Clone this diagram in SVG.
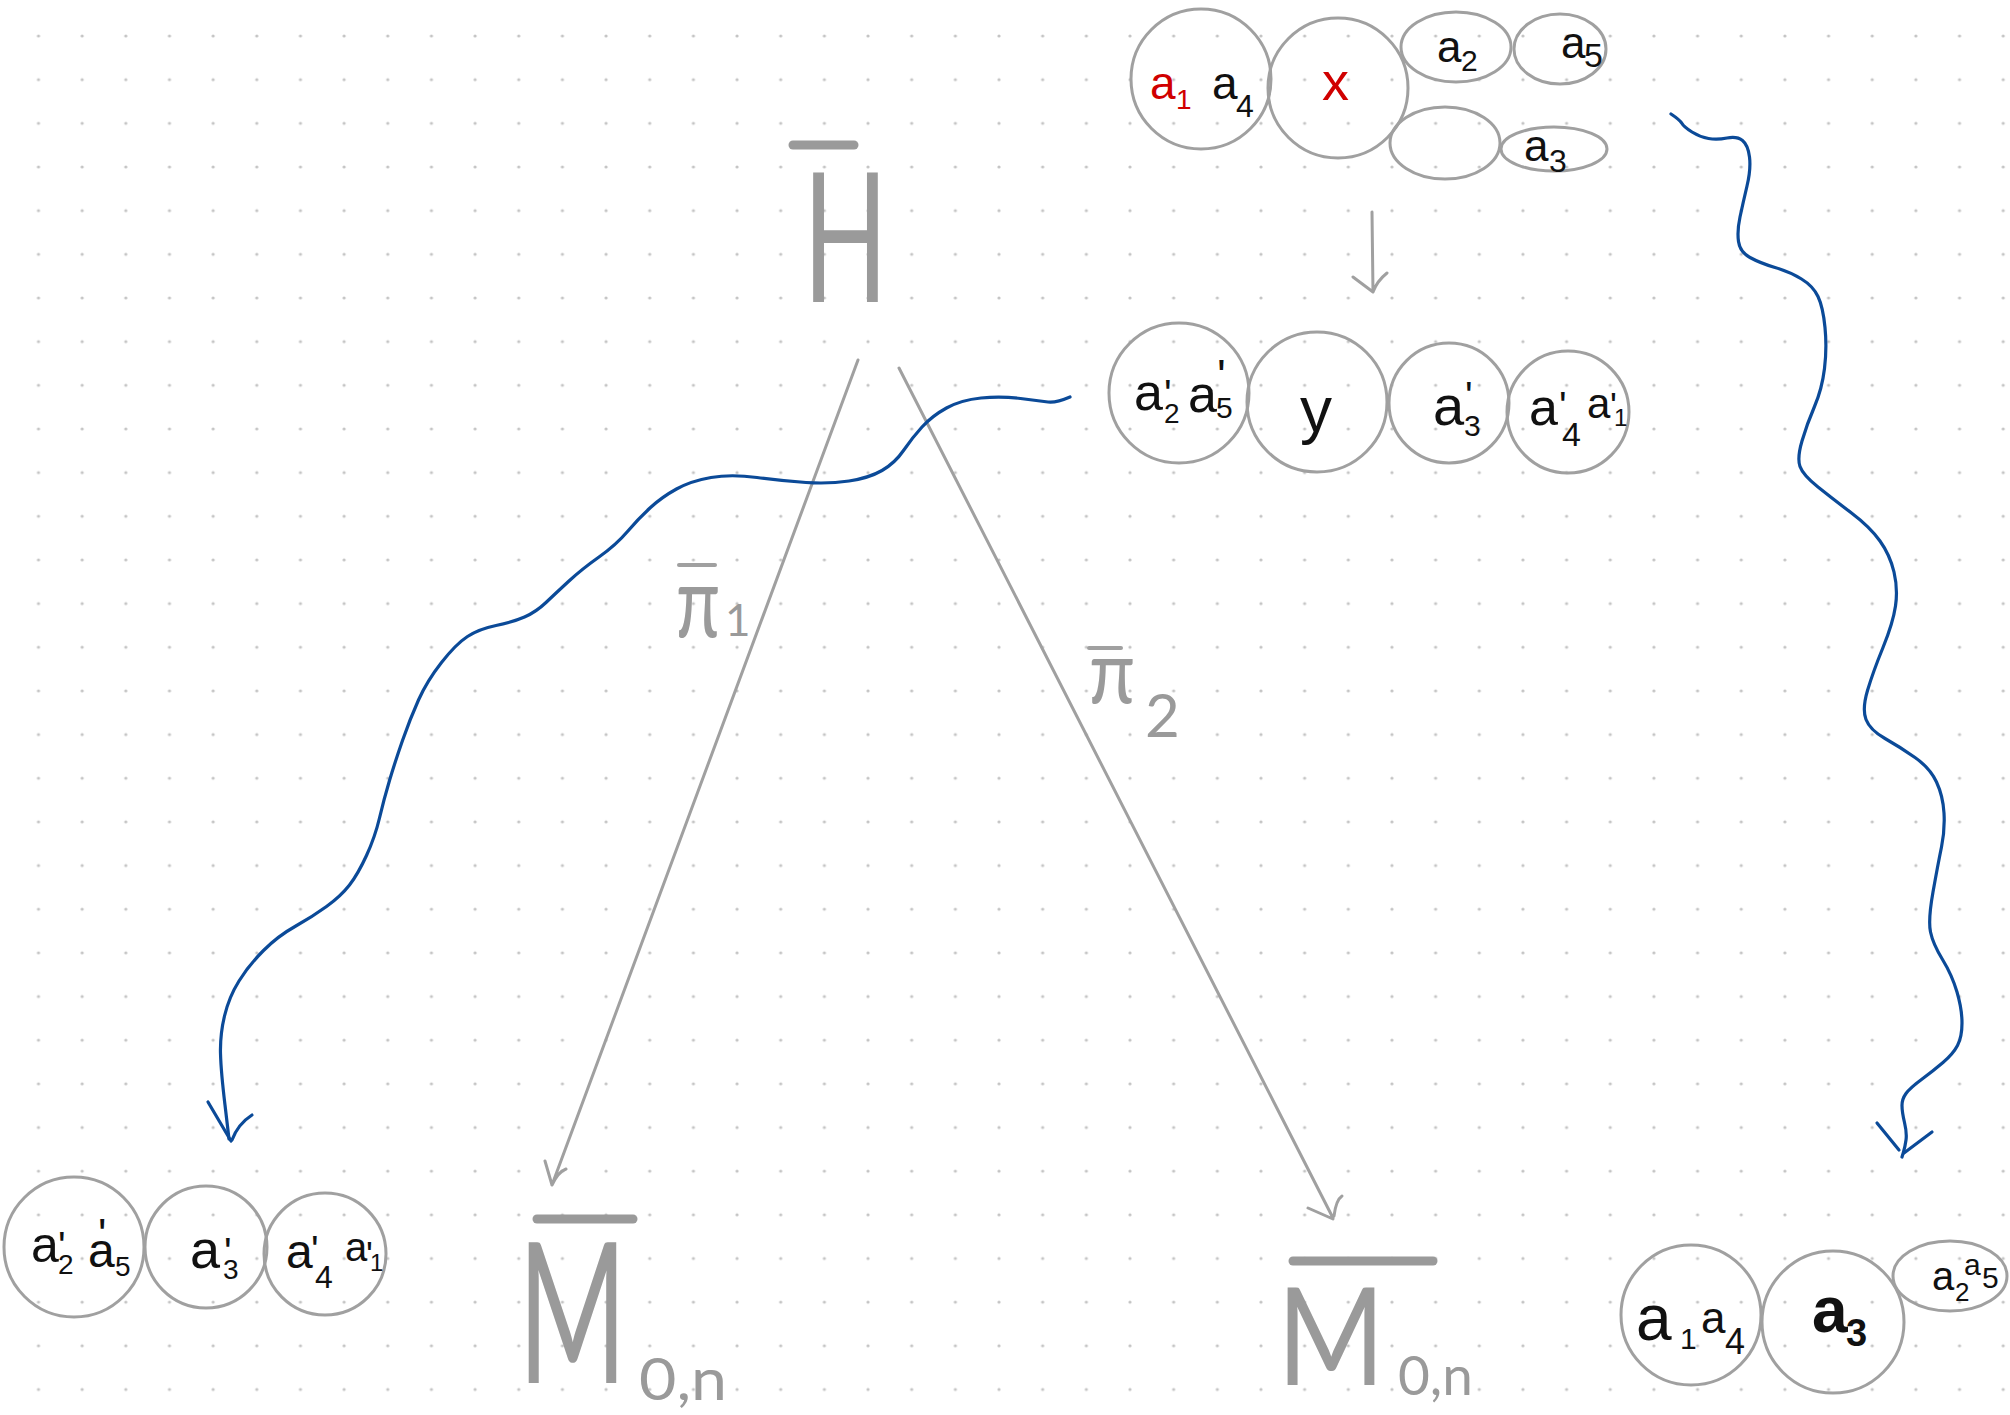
<svg xmlns="http://www.w3.org/2000/svg" width="2010" height="1415" viewBox="0 0 2010 1415">
<defs>
<pattern id="dots" patternUnits="userSpaceOnUse" x="16.67" y="14.17" width="43.66" height="43.66">
<circle cx="21.83" cy="21.83" r="1.6" fill="#c4c4c4"/>
</pattern>
</defs>
<style>
.ring{fill:none;stroke:#a0a0a0;stroke-width:3}
.t{font-family:"Liberation Sans",Arial,sans-serif;fill:#111}
.r{fill:#d00000}
.big{font-family:Lato,"Liberation Sans",Arial,sans-serif;font-weight:400;fill:#9a9a9a}
.bar{stroke:#9a9a9a;stroke-width:9;stroke-linecap:round}
.g{fill:none;stroke:#a0a0a0;stroke-width:3;stroke-linecap:round;stroke-linejoin:round}
.b{fill:none;stroke:#0b4a98;stroke-width:3.2;stroke-linecap:round;stroke-linejoin:round}
</style>
<rect width="2010" height="1415" fill="#ffffff"/>
<rect width="2010" height="1415" fill="url(#dots)"/>

<g id="connectors">
<path class="g" d="M858,360 L552,1185 M545,1161 L552,1185 Q558,1172 566,1169"/>
<path class="g" d="M899,368 L1333,1218 M1308,1208 L1333,1219 M1334,1216 Q1336,1200 1342,1196"/>
<path class="g" d="M1372,212 L1373,292 M1353,277 L1373,292 M1387,273 Q1377,281 1373,292"/>
<path class="b" d="M1070,397 Q1056,403 1048,402 Q1040,401 1020.5,398.5 Q1001,396 981,398 Q961,400 946.5,408 Q932,416 922,427 Q912,438 903.5,450.5 Q895,463 882,470.5 Q869,478 849,481 Q829,484 806,482.5 Q783,481 757,477.5 Q731,474 711,477.5 Q691,481 676.5,489 Q662,497 650.5,507.5 Q639,518 627.5,531.5 Q616,545 599,557 Q582,569 569,581 Q556,593 546,602.5 Q536,612 524.5,617 Q513,622 496,625.5 Q479,629 467.5,636.5 Q456,644 441.5,662.5 Q427,681 418.5,700 Q410,719 402.5,740.5 Q395,762 389.5,780.5 Q384,799 379.5,818 Q375,837 366.5,855.5 Q358,874 349.5,885 Q341,896 326.5,906.5 Q312,917 295,926.5 Q278,936 263.5,950.5 Q249,965 239,981 Q229,997 224.5,1016 Q220,1035 220.5,1053.5 Q221,1072 225,1105 L229,1139"/>
<path class="b" d="M208,1102 L231,1141 M252,1115 Q238,1124 232,1140"/>
<path class="b" d="M1671,114 Q1680,120 1682,123.5 Q1684,127 1692,132 Q1700,137 1708.5,138.5 Q1717,140 1727,138 Q1737,136 1742.5,140.5 Q1748,145 1749.5,157 Q1751,169 1747,186 Q1743,203 1740,217 Q1737,231 1738.5,241.5 Q1740,252 1750,257.5 Q1760,263 1775,267.5 Q1790,272 1801.5,279 Q1813,286 1818,296.5 Q1823,307 1825,327.5 Q1827,348 1824.5,368.5 Q1822,389 1814.5,406.5 Q1807,424 1802,441 Q1797,458 1800,466.5 Q1803,475 1818,487 Q1833,499 1851.5,513 Q1870,527 1880,541 Q1890,555 1894,572 Q1898,589 1895.5,606 Q1893,623 1883,647.5 Q1873,672 1867.5,690.5 Q1862,709 1866,719.5 Q1870,730 1885,738.5 Q1900,747 1915,757.5 Q1930,768 1936.5,782 Q1943,796 1944,813 Q1945,830 1941.5,847 Q1938,864 1933,892 Q1928,920 1930.5,932 Q1933,944 1942.5,959.5 Q1952,975 1957,992 Q1962,1009 1962,1023 Q1962,1037 1957.5,1045.5 Q1953,1054 1943,1062.5 Q1933,1071 1921.5,1079.5 Q1910,1088 1906,1093.5 Q1902,1099 1902,1105.5 Q1902,1112 1904.5,1122.5 Q1907,1133 1906,1140 Q1905,1147 1903.5,1152 L1902,1157"/>
<path class="b" d="M1877,1123 L1899,1150 M1932,1132 L1904,1153"/>
</g>

<g id="label-pi1">
<line x1="679" y1="565" x2="715" y2="565" stroke="#a0a0a0" stroke-width="4" stroke-linecap="round"/>
<text class="big" x="676" y="637" font-size="100" fill="#a0a0a0" textLength="44" lengthAdjust="spacingAndGlyphs">π</text>
<text class="big" x="725" y="636" font-size="44">1</text>
</g>
<g id="label-pi2">
<line x1="1089" y1="648" x2="1121" y2="648" stroke="#a0a0a0" stroke-width="4" stroke-linecap="round"/>
<text class="big" x="1089" y="703" font-size="90" textLength="46" lengthAdjust="spacingAndGlyphs">π</text>
<text class="big" x="1145" y="737" font-size="60">2</text>
</g>

<g id="node-H">
<line class="bar" x1="793" y1="145" x2="854" y2="145"/>
<text class="big" x="803" y="302" font-size="180" textLength="85" lengthAdjust="spacingAndGlyphs">H</text>
</g>

<g id="node-M-left">
<line class="bar" x1="537" y1="1219" x2="633" y2="1219"/>
<text class="big" x="518" y="1383" font-size="196" textLength="109" lengthAdjust="spacingAndGlyphs">M</text>
<text class="big" x="639" y="1400" font-size="58" textLength="88" lengthAdjust="spacingAndGlyphs">0,n</text>
</g>

<g id="node-M-right">
<line class="bar" x1="1293" y1="1261" x2="1433" y2="1261"/>
<text class="big" x="1277" y="1385" font-size="135" textLength="108" lengthAdjust="spacingAndGlyphs">M</text>
<text class="big" x="1398" y="1395" font-size="54" textLength="75" lengthAdjust="spacingAndGlyphs">0,n</text>
</g>

<g id="node-top">
<circle class="ring" cx="1201" cy="79" r="70"/>
<circle class="ring" cx="1338" cy="88" r="70"/>
<ellipse class="ring" cx="1456" cy="47" rx="55" ry="35"/>
<ellipse class="ring" cx="1560" cy="49" rx="46" ry="35"/>
<ellipse class="ring" cx="1445" cy="143" rx="55" ry="36"/>
<ellipse class="ring" cx="1554" cy="149" rx="53" ry="22"/>
<text class="t r" font-size="46"><tspan x="1150" y="99">a</tspan><tspan x="1176" y="109" font-size="28">1</tspan></text>
<text class="t" font-size="46"><tspan x="1212" y="99">a</tspan><tspan x="1236" y="117" font-size="32">4</tspan></text>
<text class="t r" x="1322" y="100" font-size="54">x</text>
<text class="t" font-size="44"><tspan x="1437" y="62">a</tspan><tspan x="1461" y="71" font-size="30">2</tspan></text>
<text class="t" font-size="44"><tspan x="1561" y="58">a</tspan><tspan x="1584" y="67" font-size="34">5</tspan></text>
<text class="t" font-size="44"><tspan x="1524" y="161">a</tspan><tspan x="1549" y="172" font-size="32">3</tspan></text>
</g>

<g id="node-mid">
<circle class="ring" cx="1179" cy="393" r="70"/>
<circle class="ring" cx="1317" cy="402" r="70"/>
<circle class="ring" cx="1449" cy="403" r="60"/>
<circle class="ring" cx="1568" cy="412" r="61"/>
<text class="t" font-size="52"><tspan x="1134" y="410">a</tspan><tspan x="1164" y="408" font-size="40">'</tspan><tspan x="1164" y="423" font-size="28">2</tspan></text>
<text class="t" font-size="52"><tspan x="1188" y="412">a</tspan><tspan x="1217" y="392" font-size="46">'</tspan><tspan x="1216" y="418" font-size="30">5</tspan></text>
<text class="t" x="1300" y="432" font-size="64">y</text>
<text class="t" font-size="56"><tspan x="1433" y="425">a</tspan><tspan x="1465" y="410" font-size="40">'</tspan><tspan x="1464" y="436" font-size="30">3</tspan></text>
<text class="t" font-size="52"><tspan x="1529" y="425">a</tspan><tspan x="1559" y="420" font-size="40">'</tspan><tspan x="1562" y="446" font-size="34">4</tspan></text>
<text class="t" font-size="42"><tspan x="1587" y="418">a</tspan><tspan x="1610" y="419" font-size="36">'</tspan><tspan x="1614" y="426" font-size="24">1</tspan></text>
</g>

<g id="node-bottom-left">
<circle class="ring" cx="74" cy="1247" r="70"/>
<circle class="ring" cx="206" cy="1247" r="61"/>
<circle class="ring" cx="325" cy="1254" r="61"/>
<text class="t" font-size="50"><tspan x="31" y="1262">a</tspan><tspan x="58" y="1260" font-size="40">'</tspan><tspan x="58" y="1274" font-size="28">2</tspan></text>
<text class="t" font-size="48"><tspan x="88" y="1267">a</tspan><tspan x="98" y="1250" font-size="44">'</tspan><tspan x="115" y="1276" font-size="28">5</tspan></text>
<text class="t" font-size="54"><tspan x="190" y="1268">a</tspan><tspan x="224" y="1266" font-size="40">'</tspan><tspan x="223" y="1279" font-size="28">3</tspan></text>
<text class="t" font-size="48"><tspan x="286" y="1268">a</tspan><tspan x="311" y="1264" font-size="40">'</tspan><tspan x="315" y="1288" font-size="32">4</tspan></text>
<text class="t" font-size="40"><tspan x="345" y="1261">a</tspan><tspan x="366" y="1268" font-size="36">'</tspan><tspan x="370" y="1271" font-size="24">1</tspan></text>
</g>

<g id="node-bottom-right">
<circle class="ring" cx="1691" cy="1315" r="70"/>
<circle class="ring" cx="1833" cy="1322" r="71"/>
<ellipse class="ring" cx="1950" cy="1276" rx="57" ry="35"/>
<text class="t" font-size="64"><tspan x="1636" y="1340">a</tspan><tspan x="1680" y="1349" font-size="30">1</tspan><tspan x="1701" y="1333" font-size="44">a</tspan><tspan x="1725" y="1354" font-size="36">4</tspan></text>
<text class="t" font-size="64" font-weight="bold"><tspan x="1812" y="1332">a</tspan><tspan x="1846" y="1346" font-size="38">3</tspan></text>
<text class="t" font-size="40"><tspan x="1932" y="1290">a</tspan><tspan x="1955" y="1301" font-size="26">2</tspan><tspan x="1964" y="1275" font-size="30">a</tspan><tspan x="1982" y="1288" font-size="30">5</tspan></text>
</g>
</svg>
